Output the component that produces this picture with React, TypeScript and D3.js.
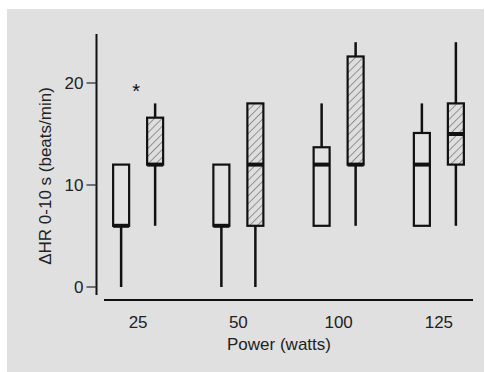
import { useEffect, useRef } from 'react'
import * as d3 from 'd3'

// power levels (watts)
const categories = ['25', '50', '100', '125']
const series = ['control', 'treated']

// box-plot stats per category, for the plain (control) and hatched (treated) boxes
const controlMin = [0, 0, 6, 6]
const controlQ1 = [6, 6, 6, 6]
const controlMedian = [6, 6, 12, 12]
const controlQ3 = [12, 12, 13.7, 15.1]
const controlMax = [12, 12, 18, 18]

const treatedMin = [6, 0, 6, 6]
const treatedQ1 = [12, 6, 12, 12]
const treatedMedian = [12, 12, 12, 15]
const treatedQ3 = [16.6, 18, 22.6, 18]
const treatedMax = [18, 18, 24, 24]

const yTicks = [0, 10, 20]
// significance markers: [category, value]
const stars: [string, number][] = [['25', 20]]

const W = 485
const H = 372
const BG = '#e0e0e0'
const INK = '#111'
const FONT = '"Liberation Sans", Arial, sans-serif'

interface BoxStat {
  cat: string
  series: string
  min: number
  q1: number
  median: number
  q3: number
  max: number
}

export default function App() {
  const svgRef = useRef<SVGSVGElement>(null)

  useEffect(() => {
    if (!svgRef.current) return
    const svg = d3.select(svgRef.current)
    svg.selectAll('*').remove()

    const boxes: BoxStat[] = []
    categories.forEach((cat, i) => {
      boxes.push({ cat, series: 'control', min: controlMin[i], q1: controlQ1[i], median: controlMedian[i], q3: controlQ3[i], max: controlMax[i] })
      boxes.push({ cat, series: 'treated', min: treatedMin[i], q1: treatedQ1[i], median: treatedMedian[i], q3: treatedQ3[i], max: treatedMax[i] })
    })

    const x = d3.scaleBand<string>().domain(categories).range([88, 489])
    const inner = d3.scalePoint<string>().domain(series).range([-17, 17])
    const y = d3.scaleLinear().domain([0, 20]).range([287, 83])
    const boxW = 16
    const mid = (c: string) => (x(c) ?? 0) + x.bandwidth() / 2

    const defs = svg.append('defs')
    const pat = defs.append('pattern')
      .attr('id', 'hatch')
      .attr('patternUnits', 'userSpaceOnUse')
      .attr('width', 5.5)
      .attr('height', 5.5)
      .attr('patternTransform', 'rotate(45)')
    pat.append('rect').attr('width', 5.5).attr('height', 5.5).attr('fill', '#dedede')
    pat.append('line')
      .attr('x1', 0).attr('y1', 0).attr('x2', 0).attr('y2', 5.5)
      .attr('stroke', '#444').attr('stroke-width', 1)

    svg.append('rect')
      .attr('x', 7).attr('y', 9)
      .attr('width', W - 8).attr('height', H - 9)
      .attr('fill', BG)

    // y axis
    const yAxis = svg.append('g').attr('transform', 'translate(96.5,0)')
    yAxis.append('line')
      .attr('y1', 34).attr('y2', 295)
      .attr('stroke', INK).attr('stroke-width', 2)
    yTicks.forEach(t => {
      yAxis.append('line')
        .attr('x1', -10).attr('x2', 0)
        .attr('y1', y(t)).attr('y2', y(t))
        .attr('stroke', '#333').attr('stroke-width', 1.3)
      yAxis.append('text')
        .attr('x', -13).attr('y', y(t))
        .attr('dy', '0.36em')
        .attr('text-anchor', 'end')
        .attr('font-family', FONT).attr('font-size', 17)
        .attr('fill', '#222')
        .text(t)
    })

    // x axis (detached baseline)
    svg.append('line')
      .attr('x1', 104).attr('x2', 473)
      .attr('y1', 300).attr('y2', 300)
      .attr('stroke', INK).attr('stroke-width', 2)
    categories.forEach(c => {
      svg.append('text')
        .attr('x', mid(c))
        .attr('y', 328)
        .attr('text-anchor', 'middle')
        .attr('font-family', FONT).attr('font-size', 17)
        .attr('fill', '#222')
        .text(c)
    })

    svg.append('text')
      .attr('x', 279).attr('y', 350)
      .attr('text-anchor', 'middle')
      .attr('font-family', FONT).attr('font-size', 17)
      .attr('fill', '#222')
      .text('Power (watts)')

    svg.append('text')
      .attr('transform', 'translate(51,176) rotate(-90)')
      .attr('text-anchor', 'middle')
      .attr('font-family', FONT).attr('font-size', 17)
      .attr('fill', '#222')
      .text('ΔHR 0-10 s (beats/min)')

    // boxes
    const g = svg.append('g')
    boxes.forEach(b => {
      const cx = mid(b.cat) + (inner(b.series) ?? 0)
      if (b.max > b.q3) {
        g.append('line')
          .attr('x1', cx).attr('x2', cx)
          .attr('y1', y(b.max)).attr('y2', y(b.q3))
          .attr('stroke', INK).attr('stroke-width', 2.5)
      }
      if (b.min < b.q1) {
        g.append('line')
          .attr('x1', cx).attr('x2', cx)
          .attr('y1', y(b.q1)).attr('y2', y(b.min))
          .attr('stroke', INK).attr('stroke-width', 2.5)
      }
      g.append('rect')
        .attr('x', cx - boxW / 2)
        .attr('y', y(b.q3))
        .attr('width', boxW)
        .attr('height', y(b.q1) - y(b.q3))
        .attr('fill', b.series === 'treated' ? 'url(#hatch)' : '#e2e2e2')
        .attr('stroke', INK).attr('stroke-width', 2.2)
      g.append('line')
        .attr('x1', cx - boxW / 2).attr('x2', cx + boxW / 2)
        .attr('y1', y(b.median)).attr('y2', y(b.median))
        .attr('stroke', INK).attr('stroke-width', 4)
    })

    stars.forEach(([c, v]) => {
      svg.append('text')
        .attr('x', mid(c) - 2)
        .attr('y', y(v))
        .attr('dy', '0.75em')
        .attr('text-anchor', 'middle')
        .attr('font-family', FONT).attr('font-size', 20)
        .attr('fill', INK)
        .text('*')
    })
  }, [])

  return (
    <svg
      ref={svgRef}
      width={W}
      height={H}
      style={{ position: 'absolute', left: 0, top: 0, background: '#fff' }}
    />
  )
}
